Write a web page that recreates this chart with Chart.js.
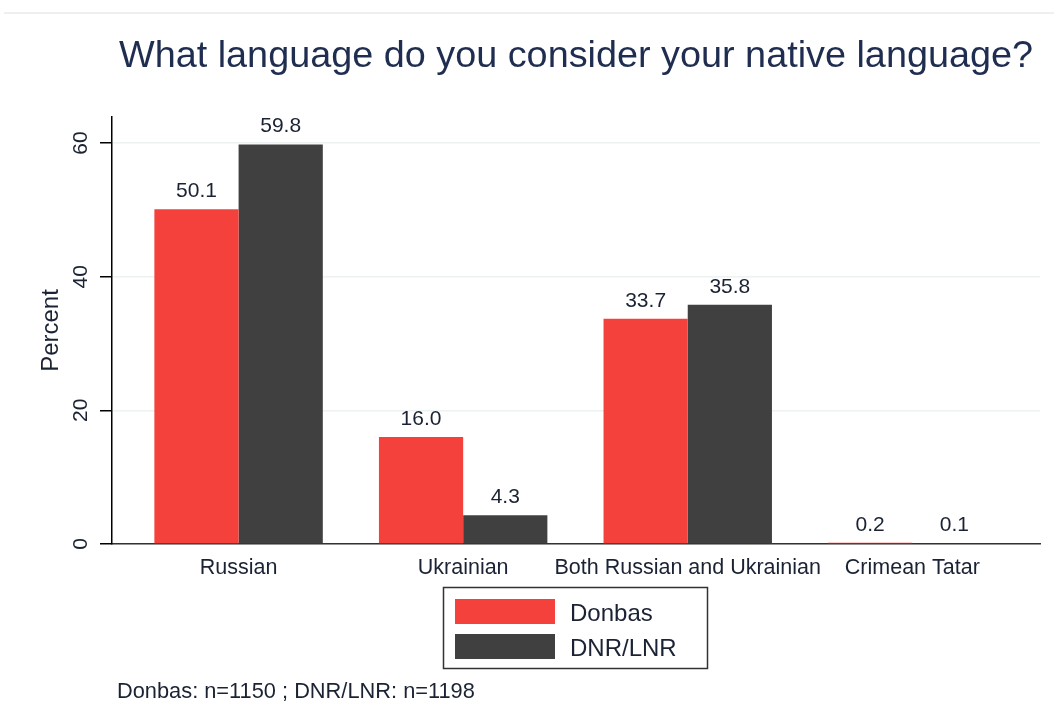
<!DOCTYPE html>
<html>
<head>
<meta charset="utf-8">
<title>Native language</title>
<script src="https://cdn.jsdelivr.net/npm/chart.js@4.4.1/dist/chart.umd.min.js"></script>
<style>
  html, body { margin: 0; padding: 0; background: #fff; }
  #wrap { width: 1054px; height: 724px; position: relative; }
</style>
</head>
<body>
<div id="wrap"><canvas id="myChart" width="1054" height="724"></canvas></div>
<script>
const titleText = "What language do you consider your native language?";
const noteText = "Donbas: n=1150 ; DNR/LNR: n=1198";
const categories = ["Russian", "Ukrainian", "Both Russian and Ukrainian", "Crimean Tatar"];
const seriesNames = ["Donbas", "DNR/LNR"];
const donbas = [50.1, 16.0, 33.7, 0.2];
const dnrLnr = [59.8, 4.3, 35.8, 0.1];
const yTicks = [0, 20, 40, 60];

const FONT = '"Liberation Sans", Arial, Helvetica, sans-serif';
const TEXT = "#1a2233";

// title, value labels, legend box and the note under the chart
const extras = {
  id: "extras",
  afterDraw(chart) {
    const ctx = chart.ctx;
    const area = chart.chartArea;
    ctx.save();

    ctx.strokeStyle = "#eef0ef";
    ctx.lineWidth = 2;
    ctx.beginPath();
    ctx.moveTo(4, 13);
    ctx.lineTo(1054, 13);
    ctx.stroke();

    ctx.fillStyle = "#1f2d50";
    ctx.font = "37.8px " + FONT;
    ctx.textAlign = "center";
    ctx.textBaseline = "alphabetic";
    ctx.fillText(titleText, (area.left + area.right) / 2, 67);

    ctx.fillStyle = TEXT;
    ctx.font = "21px " + FONT;
    chart.data.datasets.forEach(function (ds, d) {
      chart.getDatasetMeta(d).data.forEach(function (bar, i) {
        ctx.fillText(ds.data[i].y.toFixed(1), bar.x, bar.y - 12);
      });
    });

    ctx.strokeStyle = "#333";
    ctx.lineWidth = 1.5;
    ctx.strokeRect(443.5, 587.5, 264, 81);
    ctx.textAlign = "left";
    ctx.font = "24px " + FONT;
    chart.data.datasets.forEach(function (ds, d) {
      ctx.fillStyle = ds.backgroundColor;
      ctx.fillRect(455, 599 + d * 35, 100, 25);
      ctx.fillStyle = TEXT;
      ctx.fillText(ds.label, 570, 621 + d * 35);
    });

    ctx.font = "21.8px " + FONT;
    ctx.fillText(noteText, 117, 698);
    ctx.restore();
  },
};

window.addEventListener("load", function () {
  const ctx = document.getElementById("myChart");
  new Chart(ctx, {
    type: "bar",
    data: {
      datasets: [
        {
          label: seriesNames[0],
          data: donbas.map((v, i) => ({ x: i, y: v })),
          backgroundColor: "#f5413b",
        },
        {
          label: seriesNames[1],
          data: dnrLnr.map((v, i) => ({ x: i, y: v })),
          backgroundColor: "#404040",
        },
      ],
    },
    options: {
      responsive: false,
      animation: false,
      layout: { padding: { left: 0, right: 14, top: 117, bottom: 0 } },
      datasets: { bar: { categoryPercentage: 0.75, barPercentage: 1 } },
      plugins: {
        legend: { display: false },
        title: { display: false },
        tooltip: { enabled: false },
      },
      scales: {
        x: {
          type: "linear",
          offset: false,
          min: -0.5637,
          max: 3.5686,
          afterBuildTicks: (scale) => {
            scale.ticks = categories.map((c, i) => ({ value: i }));
          },
          afterFit: (scale) => {
            scale.height = 180;
          },
          grid: { display: false, drawTicks: false },
          border: { display: true, color: "#333", width: 1.5 },
          ticks: {
            autoSkip: false,
            maxRotation: 0,
            minRotation: 0,
            padding: 11,
            color: TEXT,
            font: { family: FONT, size: 21.5 },
            callback: (v) => categories[v],
          },
        },
        y: {
          min: 0,
          max: 63.9,
          afterBuildTicks: (scale) => {
            scale.ticks = yTicks.map((v) => ({ value: v }));
          },
          afterFit: (scale) => {
            scale.width = 112;
          },
          grid: { color: "#edf2f2", lineWidth: 1.5, tickLength: 12, tickColor: "#000", tickWidth: 1.5 },
          border: { display: true, color: "#000", width: 1.5 },
          ticks: {
            minRotation: 90,
            maxRotation: 90,
            crossAlign: "center",
            padding: 7,
            color: TEXT,
            font: { family: FONT, size: 21 },
          },
          title: {
            display: true,
            text: "Percent",
            color: TEXT,
            font: { family: FONT, size: 24 },
            padding: { top: 37, bottom: 0 },
          },
        },
      },
    },
    plugins: [extras],
  });
});
</script>
</body>
</html>
